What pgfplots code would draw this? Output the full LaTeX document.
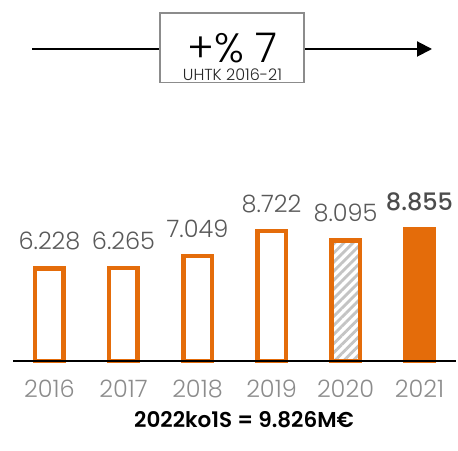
\documentclass[border=0pt]{standalone}
\usepackage{fontspec}
\setmainfont{Poppins}[UprightFont=* Light, BoldFont=* SemiBold]
\newfontfamily\popmed{Poppins Medium}
\usepackage{pgfplots}
\pgfplotsset{compat=1.18}
\usetikzlibrary{arrows.meta,patterns.meta}
\definecolor{barorange}{HTML}{E46C0A}
\definecolor{labgray}{HTML}{595959}
\definecolor{yeargray}{HTML}{8C8C8C}
\definecolor{boxgray}{HTML}{8C8C8C}
\definecolor{hatchgray}{HTML}{C4C4C4}
\begin{document}
\begin{tikzpicture}[x=1bp,y=1bp]
\useasboundingbox (0,0) rectangle (458,451);
% top arrow with box
\draw[line width=2bp,-{Triangle[length=15bp,width=15bp]}] (32,402) -- (432,402);
\draw[boxgray,line width=1.3bp,fill=white] (160,368.5) rectangle (304,438);
\node[anchor=base,inner sep=0pt,text depth=0pt] at (232,388.5) {\fontsize{41bp}{46bp}\selectfont +\% 7};
\node[anchor=base,inner sep=0pt,text=black!85] at (232.5,370.5) {\fontsize{16bp}{18bp}\selectfont UHTK 2016-21};
\begin{axis}[
  at={(13bp,90bp)}, anchor=south west,
  scale only axis, width=443bp, height=148.8bp,
  xmin=-0.493, xmax=5.493, ymin=0, ymax=10,
  clip=false, axis on top,
  axis x line*=bottom, axis y line=none,
  x axis line style={-, line width=1.5bp, black},
  xtick={0,1,2,3,4,5},
  xticklabels={2016,2017,2018,2019,2020,2021},
  major tick length=0pt,
  xticklabel style={anchor=base, inner sep=0pt, yshift=-37bp, text=yeargray, font=\fontsize{24bp}{28bp}\selectfont},
  ybar, bar width=28.5bp,
  point meta=explicit symbolic,
  nodes near coords,
  nodes near coords style={anchor=base, inner sep=0pt, yshift=18.75bp, text=labgray, font=\fontsize{24bp}{28bp}\selectfont},
]
\addplot[bar shift=0pt, draw=barorange, line width=4.5bp, fill=white]
  coordinates {(0,6.228)[6.228] (1,6.265)[6.265] (2,7.049)[7.049] (3,8.722)[8.722]};
\addplot[bar shift=0pt, draw=barorange, line width=4.5bp, fill=white,
  postaction={pattern={Lines[angle=45,distance=6.4bp,line width=2.8bp]}, pattern color=hatchgray}]
  coordinates {(4,8.095)[8.095]};
\addplot[bar shift=0pt, draw=barorange, line width=4.5bp, fill=barorange,
  nodes near coords style={text=labgray!85!black, font=\fontsize{24bp}{28bp}\selectfont\popmed}]
  coordinates {(5,8.855)[8.855]};
\end{axis}
\node[anchor=base,inner sep=0pt] at (244,23.7) {\fontsize{21.5bp}{26bp}\selectfont\bfseries 2022ko1S = 9.826M€};
\end{tikzpicture}
\end{document}
